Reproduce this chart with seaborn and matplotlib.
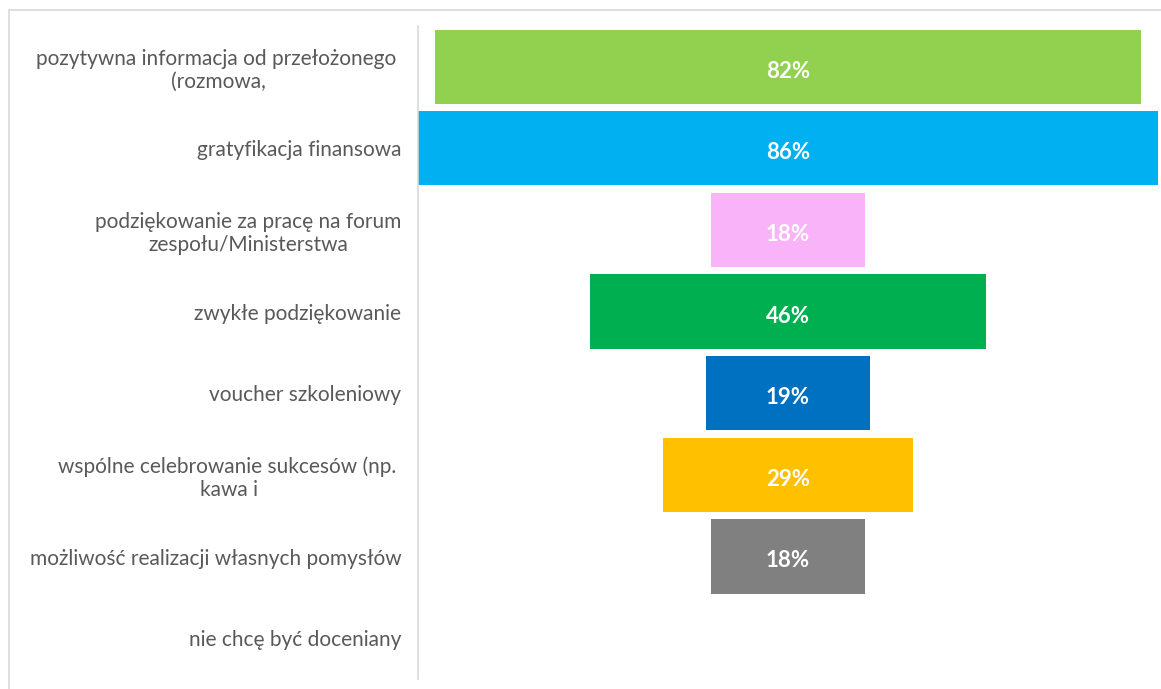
import numpy as np
import pandas as pd
import matplotlib.pyplot as plt
import seaborn as sns
from matplotlib.lines import Line2D

# dane
categories = [
    'pozytywna informacja od przełożonego \n(rozmowa,',
    'gratyfikacja finansowa',
    'podziękowanie za pracę na forum\nzespołu/Ministerstwa',
    'zwykłe podziękowanie',
    'voucher szkoleniowy',
    'wspólne celebrowanie sukcesów (np. \nkawa i',
    'możliwość realizacji własnych pomysłów',
    'nie chcę być doceniany',
]
values = [82, 86, 18, 46, 19, 29, 18, 0]
colors = ['#92D050', '#00B0F0', '#F9B4F9', '#00B050',
          '#0070C0', '#FFC000', '#808080', '#A5A5A5']

df = pd.DataFrame({'kategoria': categories, 'wartosc': values})

sns.set_theme(style='white')
plt.rcParams['font.family'] = ['Lato', 'DejaVu Sans']

fig = plt.figure(figsize=(11.61, 6.89), dpi=100)
ax = fig.add_axes([0.360, 0.0145, 0.6375, 0.948])

sns.barplot(data=df, y='kategoria', x='wartosc', hue='kategoria',
            palette=colors, legend=False, width=0.91, ax=ax,
            saturation=1)

# wyśrodkowanie słupków (lejek)
for p, v in zip(ax.patches, values):
    p.set_x(-v / 2)
    p.set_linewidth(0)

for i, v in enumerate(values):
    if v > 0:
        ax.text(0, i + 0.03, f'{v}%', ha='center', va='center_baseline',
                color='white', fontsize=16, fontweight='bold')

ax.set_xlim(-43, 43)
ax.set_ylim(len(categories) - 0.5, -0.5)
ax.set_xlabel('')
ax.set_ylabel('')
ax.set_xticks([])
ax.set_yticks(range(len(categories)))
ax.set_yticklabels(categories, fontsize=15, color='#595959')
ax.tick_params(axis='y', length=0, pad=12)

for s in ['top', 'right', 'bottom']:
    ax.spines[s].set_visible(False)
ax.spines['left'].set_color('#D9D9D9')
ax.spines['left'].set_linewidth(1.2)

# ramka obrazu
W, H = 1161, 689
fig.add_artist(Line2D([9 / W, 1], [1 - 10 / H, 1 - 10 / H],
                      color='#D9D9D9', lw=1.2, transform=fig.transFigure))
fig.add_artist(Line2D([9 / W, 9 / W], [0, 1 - 10 / H],
                      color='#D9D9D9', lw=1.2, transform=fig.transFigure))

# wielowierszowe etykiety wyśrodkowane
fig.canvas.draw()
for lab in ax.get_yticklabels():
    lab.set_multialignment('center')

fig.savefig('out.png', dpi=100)
